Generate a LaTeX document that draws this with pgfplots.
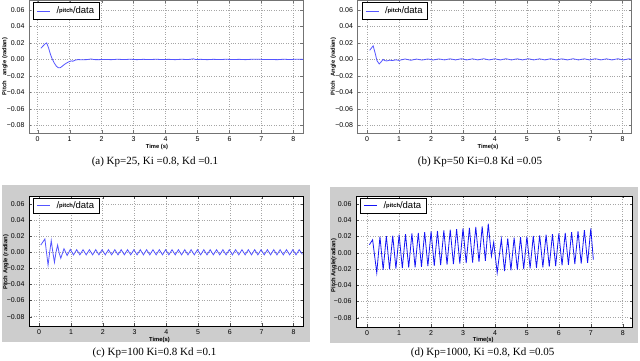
\documentclass[border=0pt]{standalone}
\usepackage{fontspec}
\setmainfont{Liberation Serif}
\setsansfont{Liberation Sans}
\usepackage{pgfplots}
\pgfplotsset{compat=1.18}

\definecolor{lblue}{RGB}{85,85,255}
\definecolor{dblue}{RGB}{20,20,245}
\definecolor{panelgray}{RGB}{205,205,205}

\pgfplotsset{
  panel/.style={
    scale only axis, anchor=south west,
    scaled y ticks=false, scaled x ticks=false,
    xtick={0,1,2,3,4,5,6,7,8},
    ytick={-0.08,-0.06,-0.04,-0.02,0,0.02,0.04,0.06},
    yticklabels={−0.08,−0.06,−0.04,−0.02,0.00,0.02,0.04,0.06},
    grid=major,
    grid style={dotted, black!35, line width=0.5pt},
    tick align=inside,
    major tick length=2.5pt,
    ticklabel style={font=\sffamily\fontsize{7}{8}\selectfont},
    /pgf/number format/assume math mode=true,
    yticklabel style={xshift=-1pt},
    xticklabel style={yshift=-0.5pt},
    xlabel style={font=\sffamily\bfseries\fontsize{5.8}{6}\selectfont, anchor=center},
    ylabel style={font=\sffamily\bfseries\fontsize{5.8}{6}\selectfont, anchor=center},
    axis background/.style={fill=white},
    legend style={draw=black, line width=0.7pt, at={(0.016,0.982)}, anchor=north west,
      font=\sffamily\fontsize{9.5}{10}\selectfont, inner xsep=3pt, inner ysep=2pt,
      nodes={inner sep=2pt}},
    legend image code/.code={\draw[#1, line width=0.8pt] (0pt,0pt) -- (13pt,0pt);},
    /tikz/every odd column/.append style={column sep=4pt},
  },
  light/.style={axis line style={black!55, line width=0.8pt}, tick style={black!55}},
  dark/.style={axis line style={black, line width=0.8pt}, tick style={black!70}},
}

\newcommand{\leg}{/\raisebox{1.5pt}{\bfseries\fontsize{5.8}{6}\selectfont pitch}/data}

\begin{document}
\begin{tikzpicture}
\useasboundingbox (0,0) rectangle (640pt,361pt);
\fill[panelgray] (2pt,19pt) rectangle (310pt,176pt);
\fill[panelgray] (330pt,18pt) rectangle (638pt,174pt);

% (a)
\begin{axis}[panel, light, at={(29pt,228pt)}, width=274pt, height=133pt,
  xmin=-0.272, xmax=8.30, ymin=-0.0893, ymax=0.0721,
  xlabel={Time (s)}, ylabel={Pitch\hspace{4pt} angle (radian)},
  xlabel style={at={(axis description cs:0.467,-0.103)}},
  ylabel style={at={(axis description cs:-0.088,0.5)}}]
\addplot[lblue, line width=0.8pt] coordinates {
(0.10,0.0135)(0.16,0.0160)(0.22,0.0185)(0.28,0.0200)(0.34,0.0140)(0.40,0.0060)
(0.46,0.0000)(0.52,-0.0045)(0.58,-0.0080)(0.64,-0.0100)(0.70,-0.0102)(0.76,-0.0085)
(0.84,-0.0060)(0.92,-0.0040)(1.00,-0.0025)(1.05,-0.0018)(1.10,-0.0022)(1.18,-0.0008)
(1.26,-0.0002)(1.40,-0.0004)(1.55,-0.0002)(1.68,0.0006)(1.75,-0.0002)(1.90,-0.0003)
(2.10,0.0000)(2.30,-0.0003)(2.50,0.0002)(2.70,-0.0002)(2.90,0.0002)(3.10,-0.0003)
(3.30,0.0001)(3.50,-0.0002)(3.70,0.0002)(3.90,-0.0002)(4.10,0.0001)(4.30,-0.0003)
(4.50,0.0002)(4.70,-0.0002)(4.87,0.0007)(4.95,-0.0002)(5.10,0.0001)(5.30,-0.0003)
(5.50,0.0001)(5.70,-0.0002)(5.90,0.0002)(6.10,-0.0002)(6.30,0.0001)(6.50,-0.0003)
(6.70,0.0002)(6.90,0.0003)(7.10,-0.0002)(7.30,-0.0001)(7.50,-0.0003)(7.70,0.0002)
(7.90,-0.0002)(8.10,0.0003)(8.30,0.0000)
};
\addlegendentry{\leg}
\end{axis}

% (b)
\begin{axis}[panel, light, at={(357.5pt,228pt)}, width=274pt, height=133pt,
  xmin=-0.30, xmax=8.28, ymin=-0.0893, ymax=0.0721,
  xlabel={Time(s)}, ylabel={Pitch\hspace{3pt} Angle (radian)},
  xlabel style={at={(axis description cs:0.476,-0.103)}},
  ylabel style={at={(axis description cs:-0.088,0.5)}}]
\addplot[lblue, line width=0.8pt] coordinates {
(0.08,0.0110)(0.13,0.0135)(0.19,0.0165)(0.25,0.0080)(0.31,-0.0015)(0.38,-0.0055)
(0.44,-0.0030)(0.50,0.0000)(0.56,-0.0015)(0.62,-0.0018)(0.70,-0.0010)(0.80,-0.0013)
(0.90,-0.0005)(1.00,-0.0012)(1.19,0.0005)(1.37,-0.0010)(1.55,0.0004)(1.72,-0.0008)
(1.90,0.0005)(2.07,-0.0007)(2.25,0.0006)(2.42,-0.0006)(2.60,0.0007)(2.77,-0.0006)
(2.95,0.0008)(3.12,-0.0006)(3.30,0.0007)(3.47,-0.0006)(3.65,0.0008)(3.82,-0.0006)
(4.00,0.0007)(4.17,-0.0006)(4.35,0.0008)(4.52,-0.0006)(4.70,0.0007)(4.87,-0.0006)
(5.05,0.0008)(5.22,-0.0006)(5.40,0.0007)(5.57,-0.0006)(5.75,0.0008)(5.92,-0.0006)
(6.10,0.0007)(6.27,-0.0006)(6.45,0.0008)(6.62,-0.0006)(6.80,0.0007)(6.97,-0.0006)
(7.15,0.0008)(7.32,-0.0006)(7.50,0.0007)(7.67,-0.0006)(7.85,0.0008)(8.02,-0.0006)
(8.20,0.0007)(8.28,0.0000)
};
\addlegendentry{\leg}
\end{axis}

% (c)
\begin{axis}[panel, dark, at={(29pt,35pt)}, width=274pt, height=130pt,
  xmin=-0.32, xmax=8.30, ymin=-0.0916, ymax=0.0699,
  xlabel={Time(s)}, ylabel={Pitch Angle (radian)},
  xlabel style={at={(axis description cs:0.476,-0.105)}},
  ylabel style={at={(axis description cs:-0.084,0.49)}},
  legend style={inner ysep=1pt}]
\addplot[lblue, line width=0.8pt] coordinates {
(0.05,0.0090)(0.12,0.0130)(0.18,0.0165)(0.23,0.0000)(0.28,-0.0160)(0.33,0.0000)
(0.38,0.0145)(0.43,0.0000)(0.48,-0.0125)(0.53,0.0000)(0.58,0.0090)(0.63,-0.0010)
(0.68,-0.0075)(0.78,0.0045)(0.88,-0.0040)(0.98,0.0035)(1.08,-0.0033)(1.18,0.0032)
(1.28,-0.0032)(1.38,0.0032)(1.48,-0.0032)(1.58,0.0032)(1.68,-0.0032)(1.78,0.0032)
(1.88,-0.0032)(1.98,0.0032)(2.08,-0.0032)(2.18,0.0032)(2.28,-0.0032)(2.38,0.0032)
(2.48,-0.0032)(2.58,0.0032)(2.68,-0.0032)(2.78,0.0032)(2.88,-0.0032)(2.98,0.0032)
(3.08,-0.0032)(3.18,0.0032)(3.28,-0.0032)(3.38,0.0032)(3.48,-0.0032)(3.58,0.0032)
(3.68,-0.0032)(3.78,0.0032)(3.88,-0.0032)(3.98,0.0032)(4.08,-0.0032)(4.18,0.0032)
(4.28,-0.0032)(4.38,0.0032)(4.48,-0.0032)(4.58,0.0032)(4.68,-0.0032)(4.78,0.0032)
(4.88,-0.0032)(4.98,0.0032)(5.08,-0.0032)(5.18,0.0032)(5.28,-0.0032)(5.38,0.0032)
(5.48,-0.0032)(5.58,0.0032)(5.68,-0.0032)(5.78,0.0032)(5.88,-0.0032)(5.98,0.0032)
(6.08,-0.0032)(6.18,0.0032)(6.28,-0.0032)(6.38,0.0032)(6.48,-0.0032)(6.58,0.0032)
(6.68,-0.0032)(6.78,0.0032)(6.88,-0.0032)(6.98,0.0032)(7.08,-0.0032)(7.18,0.0032)
(7.28,-0.0032)(7.38,0.0032)(7.48,-0.0032)(7.58,0.0032)(7.68,-0.0032)(7.78,0.0032)
(7.88,-0.0032)(7.98,0.0032)(8.08,-0.0032)(8.18,0.0032)(8.28,-0.0025)
};
\addlegendentry{\leg}
\end{axis}

% (d)
\begin{axis}[panel, dark, at={(356pt,34pt)}, width=276pt, height=131pt,
  xmin=-0.35, xmax=8.29, ymin=-0.0915, ymax=0.0700,
  xlabel={Time(s)}, ylabel={Pitch Angle(radian)},
  xlabel style={at={(axis description cs:0.461,-0.102)}},
  ylabel style={at={(axis description cs:-0.08,0.47)}},
  legend style={inner ysep=1pt}]
\addplot[dblue, line width=0.8pt] coordinates {
(0.07,0.0100)(0.12,0.0130)(0.17,0.0160)(0.30,-0.0247)(0.40,0.0198)(0.50,-0.0210)
(0.60,0.0205)(0.70,-0.0203)(0.80,0.0212)(0.90,-0.0195)(1.00,0.0222)(1.10,-0.0190)
(1.20,0.0230)(1.30,-0.0183)(1.40,0.0238)(1.50,-0.0178)(1.60,0.0245)(1.70,-0.0172)
(1.80,0.0255)(1.90,-0.0165)(2.00,0.0262)(2.10,-0.0160)(2.20,0.0268)(2.30,-0.0152)
(2.40,0.0275)(2.50,-0.0147)(2.60,0.0285)(2.70,-0.0140)(2.80,0.0292)(2.90,-0.0133)
(3.00,0.0300)(3.10,-0.0128)(3.20,0.0308)(3.30,-0.0120)(3.40,0.0318)(3.50,-0.0113)
(3.60,0.0325)(3.70,-0.0100)(3.79,0.0358)(3.89,-0.0040)(3.96,0.0130)(4.07,-0.0247)
(4.20,0.0170)(4.30,-0.0225)(4.40,0.0178)(4.50,-0.0215)(4.60,0.0185)(4.70,-0.0208)
(4.80,0.0192)(4.90,-0.0200)(5.00,0.0200)(5.10,-0.0192)(5.20,0.0208)(5.30,-0.0185)
(5.40,0.0215)(5.50,-0.0178)(5.60,0.0222)(5.70,-0.0170)(5.80,0.0230)(5.90,-0.0163)
(6.00,0.0238)(6.10,-0.0155)(6.20,0.0245)(6.30,-0.0148)(6.40,0.0255)(6.50,-0.0140)
(6.60,0.0265)(6.70,-0.0133)(6.80,0.0280)(6.90,-0.0125)(7.00,0.0300)(7.08,-0.0085)
};
\addlegendentry{\leg}
\end{axis}

\node[font=\fontsize{11}{12}\selectfont] at (155pt,199pt) {(a) Kp=25, Ki =0.8, Kd =0.1};
\node[font=\fontsize{11}{12}\selectfont] at (480pt,199pt) {(b) Kp=50 Ki=0.8 Kd =0.05};
\node[font=\fontsize{11}{12}\selectfont] at (154.5pt,8pt) {(c) Kp=100 Ki=0.8 Kd =0.1};
\node[font=\fontsize{11}{12}\selectfont] at (482.7pt,8pt) {(d) Kp=1000, Ki =0.8, Kd =0.05};
\end{tikzpicture}
\end{document}
